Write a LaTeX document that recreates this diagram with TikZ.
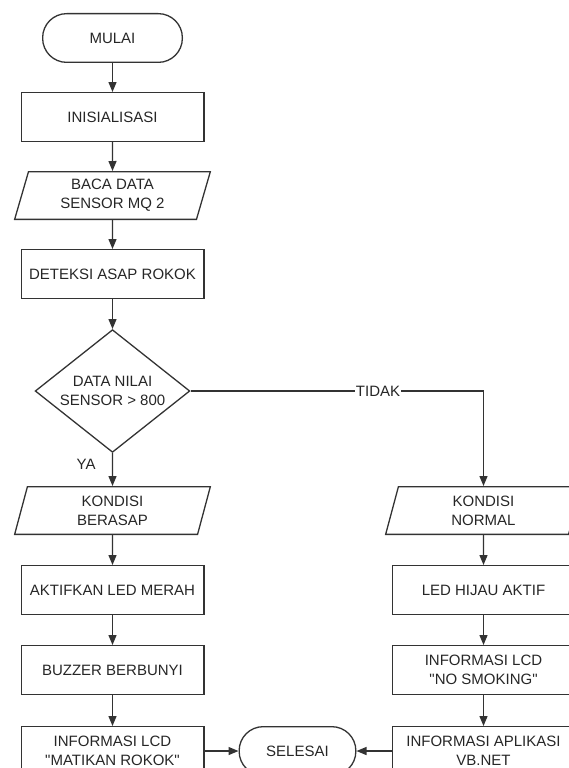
\documentclass[tikz,border=0pt]{standalone}
\usepackage{fontspec}
\newfontfamily\arialish{Liberation Sans}
\usetikzlibrary{positioning,arrows.meta,shapes.geometric}

\begin{document}
\begin{tikzpicture}[
  x=1pt, y=1pt,
  font=\arialish\fontsize{15}{19}\selectfont,
  node distance=29pt,
  line width=1.3pt,
  every node/.style={text=black!85},
  term/.style={draw=black!80, rounded corners=24pt, align=center, minimum width=139.7pt, minimum height=48.7pt},
  box/.style={draw=black!80, align=center, minimum width=182.7pt, minimum height=48.7pt, inner sep=2pt},
  io/.style={draw=black!80, trapezium, trapezium left angle=68, trapezium right angle=112, trapezium stretches body, align=center, minimum width=195.7pt, minimum height=47.7pt, inner sep=1pt},
  dec/.style={draw=black!80, diamond, aspect=1.26, align=center, minimum width=154.7pt, minimum height=122.7pt, inner sep=0pt},
  arr/.style={-{Triangle[length=10pt,width=8pt]}, draw=black!80},
  lbl/.style={fill=white, inner sep=1pt}
]
\useasboundingbox (0,0) rectangle (568,-768);
% left column
\node[term] (mulai) at (112.5,-38) {MULAI};
\node[box, below=of mulai] (init) {INISIALISASI};
\node[io, below=of init] (baca) {BACA DATA\\SENSOR MQ 2};
\node[box, below=of baca] (deteksi) {DETEKSI ASAP ROKOK};
\node[dec, below=30pt of deteksi] (cek) {DATA NILAI\\SENSOR > 800};
\node[io, below=33pt of cek] (asap) {KONDISI\\BERASAP};
\node[box, below=30pt of asap] (merah) {AKTIFKAN LED MERAH};
\node[box, below=30pt of merah] (buzzer) {BUZZER BERBUNYI};
\node[box, below=31pt of buzzer] (lcdA) {INFORMASI LCD\\"MATIKAN ROKOK"};
% right column
\node[box, right=187pt of merah] (hijau) {LED HIJAU AKTIF};
\node[io, above=30pt of hijau] (normal) {KONDISI\\NORMAL};
\node[box, below=30pt of hijau] (lcdB) {INFORMASI LCD\\"NO SMOKING"};
\node[box, below=31pt of lcdB] (vbnet) {INFORMASI APLIKASI\\VB.NET};
\node[term, right=34pt of lcdA, minimum width=116.7pt] (selesai) {SELESAI};

\foreach \a/\b in {mulai/init, init/baca, baca/deteksi, deteksi/cek, asap/merah, merah/buzzer, buzzer/lcdA, normal/hijau, hijau/lcdB, lcdB/vbnet}
  \draw[arr] (\a) -- (\b);
\draw[arr] (cek) -- node[pos=0.35, left=13pt]{YA} (asap);
\draw[arr] (cek.east) -| node[pos=0.32, lbl]{TIDAK} (normal.north);
\draw[arr] (lcdA) -- (selesai);
\draw[arr] (vbnet) -- (selesai);
\end{tikzpicture}
\end{document}
